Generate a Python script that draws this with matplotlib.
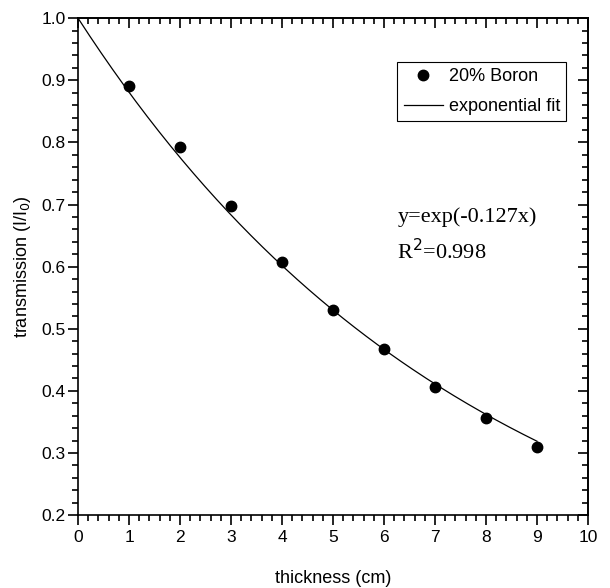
import matplotlib.pyplot as plt
import numpy as np
from matplotlib.ticker import MultipleLocator

# measured transmission vs thickness
thickness = [1, 2, 3, 4, 5, 6, 7, 8, 9]
transmission = [0.891, 0.793, 0.698, 0.608, 0.531, 0.468, 0.406, 0.356, 0.309]
fit_coef = -0.127
fit_range = (0, 9)

plt.rcParams['font.family'] = ['Liberation Sans', 'DejaVu Sans']

fig = plt.figure(figsize=(6.1, 5.88), dpi=100)
ax = fig.add_axes([0.128, 0.124, 0.836, 0.845])

ax.plot(thickness, transmission, 'o', color='black', markersize=7.5, label='20% Boron')
xf = np.linspace(fit_range[0], fit_range[1], 200)
ax.plot(xf, np.exp(fit_coef * xf), '-', color='black', linewidth=0.9, label='exponential fit')

ax.set_xlim(0, 10)
ax.set_ylim(0.2, 1.0)
ax.xaxis.set_major_locator(MultipleLocator(1))
ax.xaxis.set_minor_locator(MultipleLocator(0.2))
ax.yaxis.set_major_locator(MultipleLocator(0.1))
ax.yaxis.set_minor_locator(MultipleLocator(0.02))
ax.tick_params(which='both', direction='out', top=False, right=False, labelsize=12.5, width=1.2)
ax.tick_params(which='major', length=7)
ax.tick_params(which='minor', length=4)
ax.tick_params(axis='y', pad=2)

# mirrored ticks on top/right pointing inward
sec_x = ax.secondary_xaxis('top')
sec_x.xaxis.set_major_locator(MultipleLocator(1))
sec_x.xaxis.set_minor_locator(MultipleLocator(0.2))
sec_x.tick_params(which='both', direction='in', labeltop=False, width=1.2)
sec_x.tick_params(which='major', length=7)
sec_x.tick_params(which='minor', length=4)
sec_y = ax.secondary_yaxis('right')
sec_y.yaxis.set_major_locator(MultipleLocator(0.1))
sec_y.yaxis.set_minor_locator(MultipleLocator(0.02))
sec_y.tick_params(which='both', direction='in', labelright=False, width=1.2)
sec_y.tick_params(which='major', length=7)
sec_y.tick_params(which='minor', length=4)

for s in ax.spines.values():
    s.set_linewidth(1.2)
sec_x.spines['top'].set_linewidth(1.2)
sec_y.spines['right'].set_linewidth(1.2)

ax.xaxis.set_major_formatter(plt.FuncFormatter(lambda v, p: f'{v:g}'))
ax.set_xlabel('thickness (cm)', fontsize=13, labelpad=18)
ax.set_ylabel('transmission (I/I$_0$)', fontsize=13, labelpad=6)

leg = ax.legend(loc='upper left', bbox_to_anchor=(0.626, 0.912), fontsize=13,
                frameon=True, fancybox=False, edgecolor='black', framealpha=1,
                handlelength=2.2, handletextpad=0.3, borderpad=0.35, labelspacing=0.7,
                borderaxespad=0)
leg.get_frame().set_linewidth(0.8)

ax.text(0.626, 0.60, 'y=exp(-0.127x)', transform=ax.transAxes, fontsize=16,
        family='Liberation Serif', va='center')
ax.text(0.626, 0.53, 'R$^2$=0.998', transform=ax.transAxes, fontsize=16,
        family='Liberation Serif', va='center')

fig.savefig('out.png', dpi=100)
